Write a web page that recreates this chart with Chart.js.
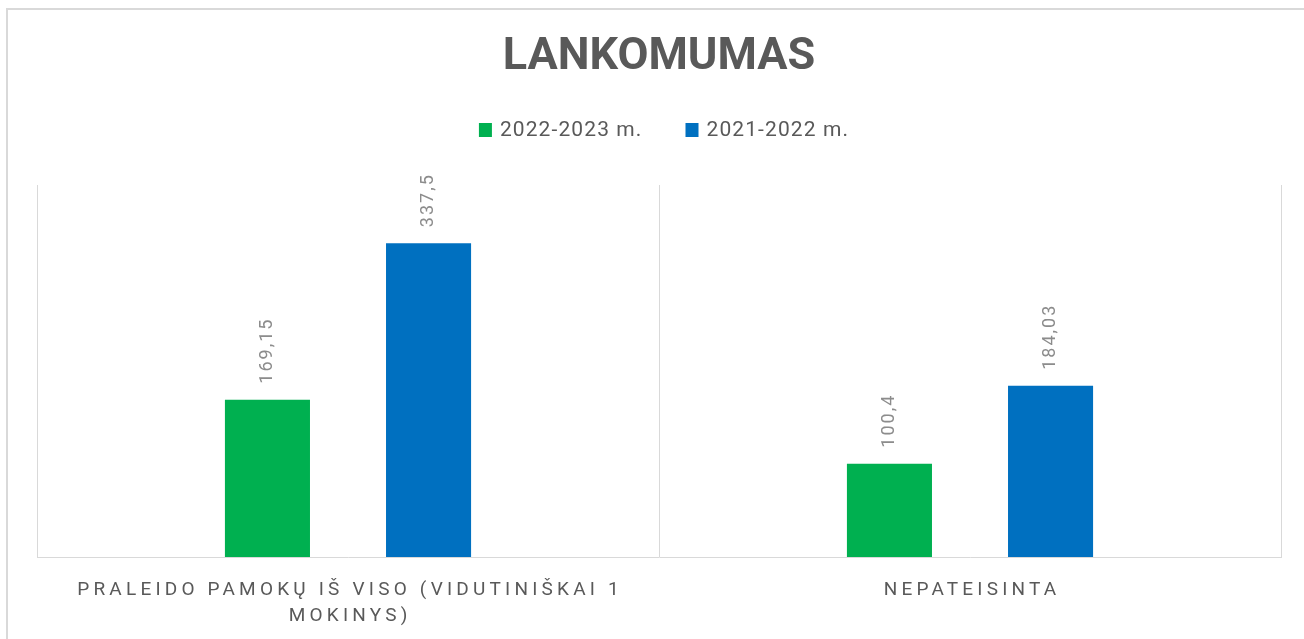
<!DOCTYPE html>
<html>
<head>
<meta charset="utf-8">
<script src="https://cdn.jsdelivr.net/npm/chart.js@4.4.0/dist/chart.umd.min.js"></script>
<style>
  html, body { margin: 0; padding: 0; background: #fff; overflow: hidden; }
  #wrap { position: relative; width: 1304px; height: 639px; overflow: hidden; }
  #frame { position: absolute; left: 6px; top: 8px; width: 1400px; height: 700px;
           border-left: 2px solid #d9d9d9; border-top: 2px solid #d9d9d9; pointer-events: none; }
</style>
</head>
<body>
<div id="wrap">
  <canvas id="chart" width="1304" height="639"></canvas>
  <div id="frame"></div>
</div>
<script>
// data
const chartTitle = 'LANKOMUMAS';
const categories = [
  ['PRALEIDO PAMOKŲ IŠ VISO (VIDUTINIŠKAI 1', 'MOKINYS)'],
  ['NEPATEISINTA']
];
const seriesNames = ['2022-2023 m.', '2021-2022 m.'];
const values2223 = [169.15, 100.4];
const values2122 = [337.5, 184.03];
const yMax = 400;

const colors = ['#00b050', '#0070c0'];
const fmt = v => String(v).replace('.', ',');

// rotated value labels above each bar
const barLabels = {
  id: 'barLabels',
  afterDatasetsDraw(chart) {
    const ctx = chart.ctx;
    chart.data.datasets.forEach((ds, i) => {
      chart.getDatasetMeta(i).data.forEach((bar, j) => {
        ctx.save();
        ctx.translate(bar.x, bar.y - 16);
        ctx.rotate(-Math.PI / 2);
        ctx.font = '18px Roboto';
        ctx.letterSpacing = '2px';
        ctx.fillStyle = '#8c8c8c';
        ctx.textAlign = 'left';
        ctx.textBaseline = 'middle';
        ctx.fillText(fmt(ds.data[j]), 0, 0);
        ctx.restore();
      });
    });
  }
};

// spaced-out category labels under the axis
const categoryLabels = {
  id: 'categoryLabels',
  afterDraw(chart) {
    const ctx = chart.ctx;
    const xs = chart.scales.x;
    const ls = 4.2;
    ctx.save();
    ctx.font = '19px Roboto';
    ctx.letterSpacing = ls + 'px';
    ctx.fillStyle = '#595959';
    ctx.textAlign = 'center';
    ctx.textBaseline = 'middle';
    chart.data.labels.forEach((lines, i) => {
      const x = xs.getPixelForTick(i);
      lines.forEach((t, k) => ctx.fillText(t, x + ls / 2, chart.chartArea.bottom + 33 + k * 26));
    });
    ctx.restore();
  }
};

// legend: small squares + text
const squareLegend = {
  id: 'squareLegend',
  afterDraw(chart) {
    const ctx = chart.ctx;
    const box = 13, gap = 8, itemGap = 43, y = 130;
    ctx.save();
    ctx.font = '21px Roboto';
    ctx.letterSpacing = '1.1px';
    ctx.textBaseline = 'middle';
    ctx.textAlign = 'left';
    const items = chart.data.datasets.map(ds => ({
      label: ds.label, color: ds.backgroundColor, w: box + gap + ctx.measureText(ds.label).width
    }));
    const total = items.reduce((s, it) => s + it.w, 0) + itemGap * (items.length - 1);
    let x = chart.width / 2 + 12 - total / 2;
    items.forEach(it => {
      ctx.fillStyle = it.color;
      ctx.fillRect(x, y - 7, box, 14);
      ctx.fillStyle = '#595959';
      ctx.fillText(it.label, x + box + gap, y + 1);
      x += it.w + itemGap;
    });
    ctx.restore();
  }
};

const ctx = document.getElementById('chart').getContext('2d');
new Chart(ctx, {
  type: 'bar',
  data: {
    labels: categories,
    datasets: [
      { label: seriesNames[0], data: values2223, backgroundColor: colors[0],
        categoryPercentage: 0.518, barPercentage: 0.528 },
      { label: seriesNames[1], data: values2122, backgroundColor: colors[1],
        categoryPercentage: 0.518, barPercentage: 0.528 }
    ]
  },
  options: {
    responsive: false,
    animation: false,
    layout: { padding: { left: 37, right: 23, top: 0, bottom: 82 } },
    plugins: {
      legend: { display: false },
      tooltip: { enabled: false },
      title: {
        display: true,
        text: chartTitle,
        color: '#595959',
        font: { family: 'Roboto', size: 45, weight: 'bold' },
        padding: { top: 31, bottom: 100 }
      }
    },
    scales: {
      x: {
        offset: true,
        grid: { color: '#d9d9d9', lineWidth: 1, offset: true, drawTicks: false },
        border: { display: true, color: '#d9d9d9' },
        ticks: { display: false }
      },
      y: { display: false, min: 0, max: yMax }
    }
  },
  plugins: [barLabels, categoryLabels, squareLegend]
});
</script>
</body>
</html>
